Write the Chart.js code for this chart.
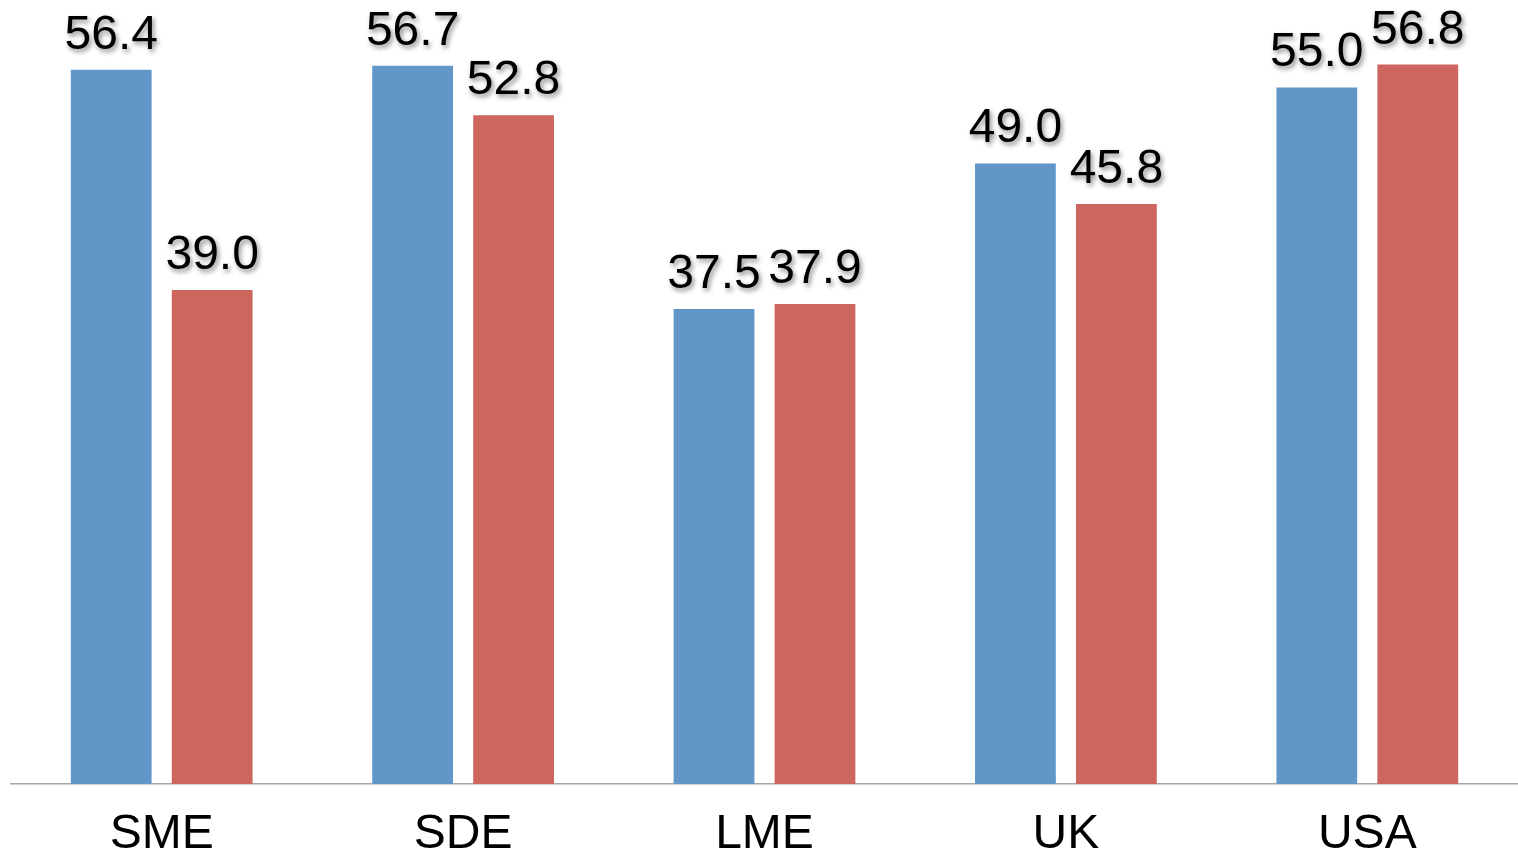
<!DOCTYPE html>
<html>
<head>
<meta charset="utf-8">
<script src="https://cdn.jsdelivr.net/npm/chart.js@4"></script>
<style>
  html, body { margin: 0; padding: 0; background: #fff; }
  #wrap { width: 1518px; height: 857px; }
</style>
</head>
<body>
<div id="wrap"><canvas id="bars"></canvas></div>
<script>
const categories = ["SME", "SDE", "LME", "UK", "USA"];
const seriesBlue = [56.4, 56.7, 37.5, 49.0, 55.0];
const seriesRed = [39.0, 52.8, 37.9, 45.8, 56.8];

const FONT = "'Liberation Sans', Arial, sans-serif";

// Value labels above each bar, with a soft drop shadow
const valueLabels = {
    id: "valueLabels",
    afterDatasetsDraw(chart) {
        const ctx = chart.ctx;
        ctx.save();
        ctx.font = "48px " + FONT;
        ctx.fillStyle = "#000";
        ctx.textAlign = "center";
        ctx.textBaseline = "alphabetic";
        ctx.shadowColor = "rgba(0, 0, 0, 0.45)";
        ctx.shadowBlur = 5;
        ctx.shadowOffsetX = 2;
        ctx.shadowOffsetY = 3;
        chart.data.datasets.forEach((ds, i) => {
            chart.getDatasetMeta(i).data.forEach((bar, j) => {
                ctx.fillText(ds.data[j].toFixed(1), bar.x, bar.y - 21);
            });
        });
        ctx.restore();
    },
};

new Chart(document.getElementById("bars"), {
    type: "bar",
    data: {
        labels: categories,
        datasets: [
            {
                label: "A",
                data: seriesBlue,
                backgroundColor: "rgb(97, 150, 200)",
                categoryPercentage: 0.67,
                barPercentage: 0.8,
            },
            {
                label: "B",
                data: seriesRed,
                backgroundColor: "rgb(204, 102, 94)",
                categoryPercentage: 0.67,
                barPercentage: 0.8,
            },
        ],
    },
    options: {
        responsive: true,
        maintainAspectRatio: false,
        animation: false,
        layout: { padding: { left: 11, right: 0, top: 0, bottom: 0 } },
        plugins: {
            legend: { display: false },
            tooltip: { enabled: false },
        },
        scales: {
            x: {
                grid: { display: false, drawTicks: false },
                border: { color: "#a6a6a6", width: 1.5 },
                ticks: {
                    color: "#000",
                    font: { family: FONT, size: 48 },
                    padding: 22,
                    maxRotation: 0,
                },
                afterFit: (axis) => { axis.height = 73; },
            },
            y: {
                display: false,
                min: 0,
                max: 61.9,
            },
        },
    },
    plugins: [valueLabels],
});
</script>
</body>
</html>
